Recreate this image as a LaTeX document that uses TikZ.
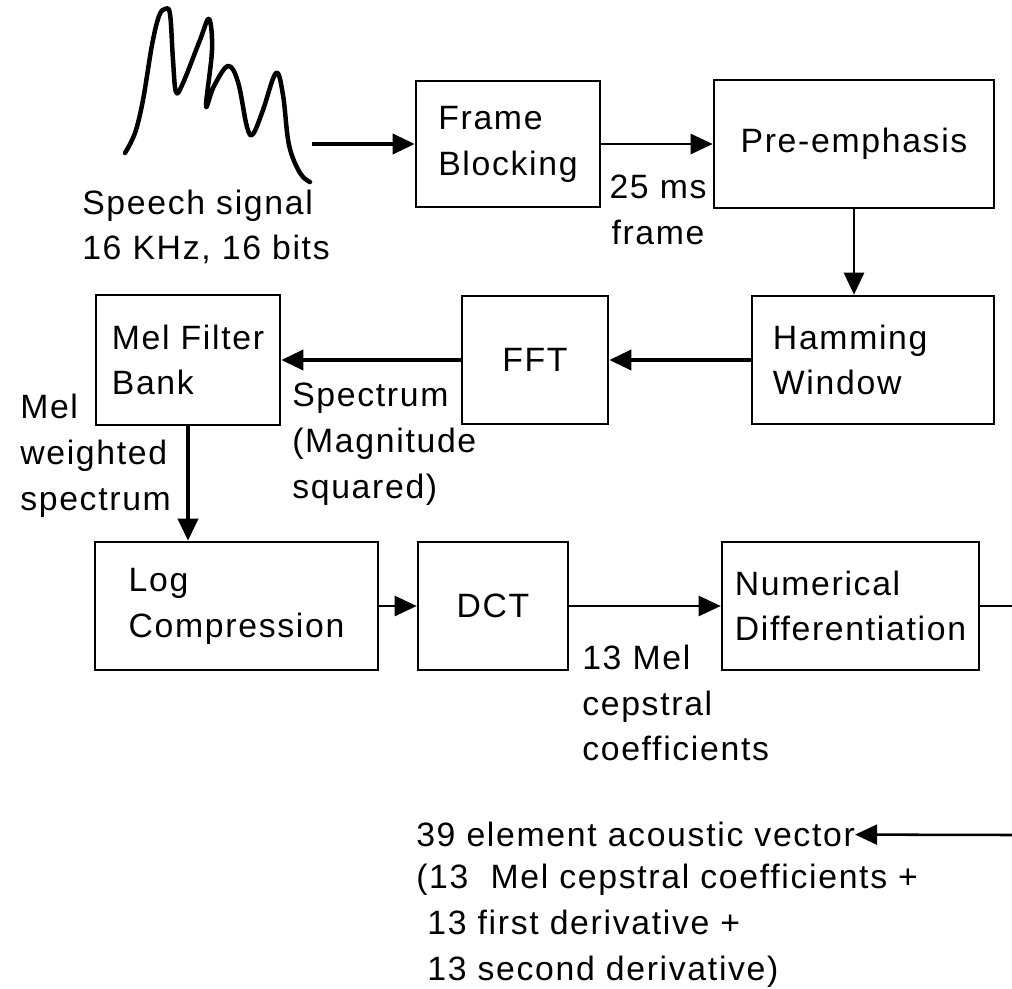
\documentclass[tikz,border=0pt]{standalone}
\usepackage{fontspec}
\setmainfont{Liberation Sans}[LetterSpace=5]
\usetikzlibrary{arrows.meta}
\tikzset{every node/.style={font=\fontsize{24}{32.6}\selectfont, inner sep=0pt}}
\tikzset{block/.style={draw = black, line width=1.8pt, align=left}}
\tikzset{every edge/.style={draw = black, line width=1.8pt, -{Triangle[length=0.55cm,width=0.5cm]}}}
\tikzset{heavy/.style={line width=2.6pt}}

\begin{document}
\begin{tikzpicture}[x=0.025cm, y=-0.025cm]
  \useasboundingbox (0,0) rectangle (1012,988);

  % speech waveform
  \draw[line width=3.2pt, line cap=round, line join=round] plot[smooth, tension=0.6] coordinates {
    (125,153) (135,133) (143,100) (152,45) (159,16) (165,9) (170,14)
    (173,60) (176,92) (183,83) (200,40) (209,19) (212,50)
    (206,106) (214,86) (228,66) (238,82) (247,127) (253,134) (263,110)
    (276,73) (283,95) (289,145) (300,173) (310,182)};

  \node (A) [block, minimum width=4.6cm, minimum height=3.15cm] at (508,144) {Frame\\Blocking};
  \node (B) [block, minimum width=7cm, minimum height=3.2cm] at (854,144) {Pre-emphasis};
  \node (C) [block, minimum width=6.05cm, minimum height=3.2cm, text width=5cm] at (873,360) {Hamming\\Window};
  \node (D) [block, minimum width=3.65cm, minimum height=3.2cm] at (535,360) {FFT};
  \node (E) [block, minimum width=4.6cm, minimum height=3.25cm] at (188,360) {Mel Filter\\Bank};
  \node (F) [block, minimum width=7.075cm, minimum height=3.2cm] at (236.5,606) {Log\\Compression};
  \node (G) [block, minimum width=3.75cm, minimum height=3.2cm] at (493,606) {DCT};
  \node (H) [block, minimum width=6.425cm, minimum height=3.2cm] at (850.5,606) {Numerical\\Differentiation};

  \node (sig) [anchor=west, align=left] at (82,227) {Speech signal\\16 KHz, 16 bits};
  \node (frm) [align=center] at (658,210) {25 ms\\frame};
  \node (melw) [anchor=west, align=left] at (20,456) {Mel\\weighted\\spectrum};
  \node (spec) [anchor=west, align=left] at (292,444) {Spectrum\\(Magnitude\\squared)};
  \node (mfcc) [anchor=west, align=left] at (582,703) {13 Mel\\cepstral\\coefficients};
  \node (vec) [anchor=west] at (416,834) {39 element acoustic vector};
  \node (vecnote) [anchor=north west, align=left] at (416,864) {(13\ \ Mel cepstral coefficients +\\\ 13 first derivative +\\\ 13 second derivative)};

  \coordinate (wave) at (312,144);
  \coordinate (out) at (1012,606);
  \coordinate (back) at (1012,835);

  \path (wave) edge[heavy] (A);
  \path (A) edge (B);
  \path (B.south) edge (B.south |- C.north);
  \path (C) edge[heavy] (D);
  \path (D) edge[heavy] (E);
  \path (E.south) edge[heavy] (E.south |- F.north);
  \path (F) edge (G);
  \path (G) edge (H);
  \draw[line width=1.8pt] (H) -- (out);
  \path (back) edge (vec);
\end{tikzpicture}
\end{document}
